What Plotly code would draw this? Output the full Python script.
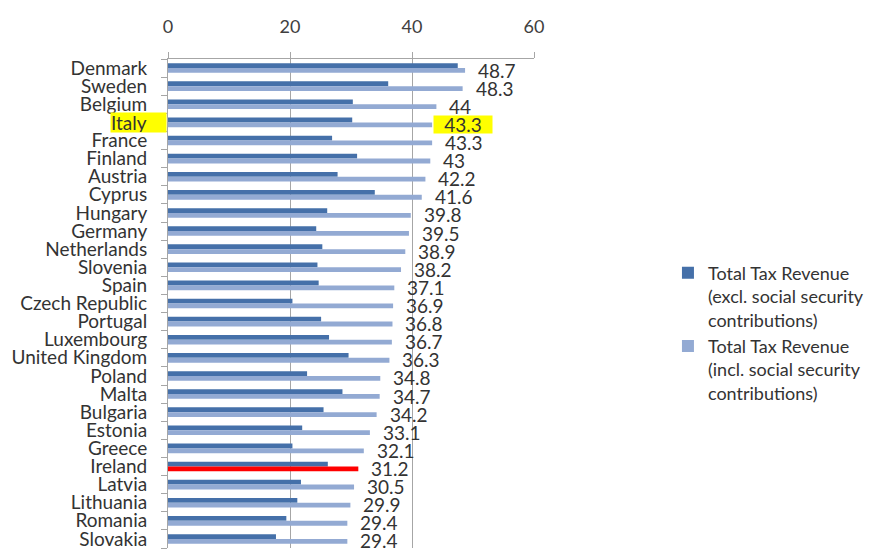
import plotly.graph_objects as go

countries = ["Denmark", "Sweden", "Belgium", "Italy", "France", "Finland", "Austria",
             "Cyprus", "Hungary", "Germany", "Netherlands", "Slovenia", "Spain",
             "Czech Republic", "Portugal", "Luxembourg", "United Kingdom", "Poland",
             "Malta", "Bulgaria", "Estonia", "Greece", "Ireland", "Latvia",
             "Lithuania", "Romania", "Slovakia"]
excl_ssc = [47.5, 36.1, 30.3, 30.2, 26.9, 31.0, 27.8, 33.9, 26.1, 24.3, 25.3, 24.5, 24.7,
            20.4, 25.1, 26.4, 29.6, 22.8, 28.6, 25.5, 22.0, 20.4, 26.2, 21.8, 21.2, 19.4, 17.7]
incl_ssc = [48.7, 48.3, 44, 43.3, 43.3, 43, 42.2, 41.6, 39.8, 39.5, 38.9, 38.2, 37.1,
            36.9, 36.8, 36.7, 36.3, 34.8, 34.7, 34.2, 33.1, 32.1, 31.2, 30.5, 29.9, 29.4, 29.4]
x_ticks = [0, 20, 40, 60]

highlight = "Italy"     # yellow marker on label and value
red_bar = "Ireland"     # bar drawn in red

dark_blue = "#4570a9"
light_blue = "#93aad3"
grid = "#a6a6a6"
text_col = "#333333"
font = "Lato"

light_colors = ["#ff0000" if c == red_bar else light_blue for c in countries]

fig = go.Figure()
fig.add_trace(go.Bar(
    y=countries, x=excl_ssc, orientation="h",
    name="Total Tax Revenue<br>(excl. social security<br>contributions)",
    marker=dict(color=dark_blue, line_width=0)
))
fig.add_trace(go.Bar(
    y=countries, x=incl_ssc, orientation="h",
    name="Total Tax Revenue<br>(incl. social security<br>contributions)",
    marker=dict(color=light_colors, line_width=0)
))

# value labels at the end of the light bars
for c, v in zip(countries, incl_ssc):
    if c == highlight:
        fig.add_annotation(x=v, y=c, xref="x", yref="y", text=f"{v:g}", showarrow=False,
                           xanchor="left", xshift=1, yshift=-2, width=58, height=17,
                           borderpad=0, bgcolor="#ffff00", align="center",
                           font=dict(family=font, size=19, color=text_col))
    else:
        fig.add_annotation(x=v, y=c, xref="x", yref="y", text=f"{v:g}", showarrow=False,
                           xanchor="left", xshift=11, yshift=-2,
                           font=dict(family=font, size=19, color=text_col))

# highlighted category label
fig.add_annotation(x=0, y=highlight, xref="paper", yref="y", text=highlight, showarrow=False,
                   xanchor="right", xshift=-1, width=55, height=19, borderpad=0,
                   bgcolor="#ffff00", align="left",
                   font=dict(family=font, size=19, color=text_col))

# page body adds an 8px offset, so the figure is 8px smaller than the window
fig.update_layout(
    width=878, height=551,
    margin=dict(l=160, r=352, t=51, b=11, autoexpand=False),
    barmode="group", bargap=0.47, bargroupgap=0,
    plot_bgcolor="white", paper_bgcolor="white",
    font=dict(family=font, size=18, color=text_col),
    legend=dict(x=1.366, y=0.60, xanchor="left", yanchor="top", valign="top",
                font=dict(family=font, size=18, color=text_col),
                tracegroupgap=0),
    xaxis=dict(side="top", range=[0, 60], tickvals=x_ticks, showgrid=True,
               gridcolor=grid, gridwidth=1, zeroline=False, showline=True,
               linecolor=grid, ticks="outside", ticklen=6, tickcolor=grid,
               ticklabelstandoff=12, tickfont=dict(size=18, color="#404040")),
    yaxis=dict(range=[len(countries) - 0.5, -0.5], tickvals=countries,
               ticktext=["" if c == highlight else c for c in countries],
               showline=True, linecolor=grid, ticks="outside", ticklen=6,
               tickcolor=grid, tickson="boundaries", showgrid=False,
               ticklabelstandoff=16, tickfont=dict(size=19, color=text_col)),
)

fig.write_html("out.html")
